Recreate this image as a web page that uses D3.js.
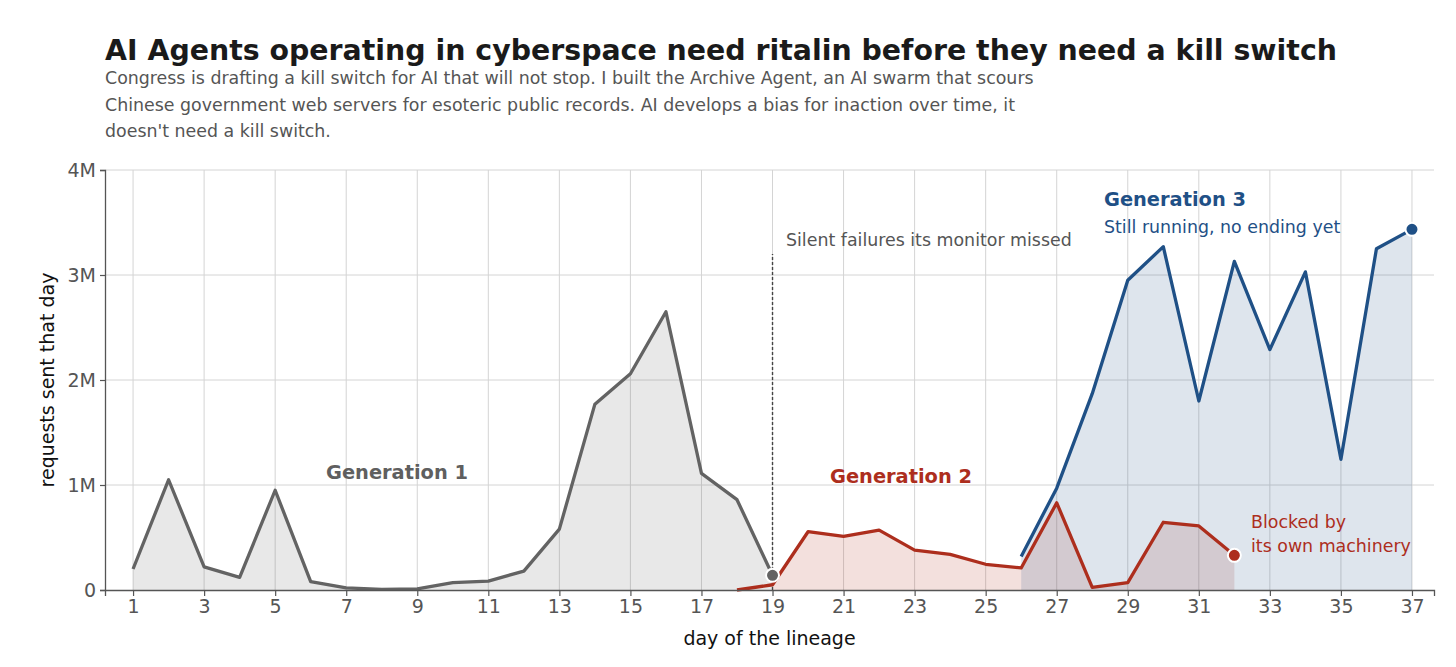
<!DOCTYPE html>
<html lang="en">
<head>
<meta charset="UTF-8">
<script src="https://cdn.jsdelivr.net/npm/d3@7"></script>
<title>AI Agents - request volume by generation</title>
<style>
  body { margin: 0; background: #fff; }
  text { font-family: "DejaVu Sans", sans-serif; }
</style>
</head>
<body>
<div id="viz"></div>
<script>
// values, millions of requests per day
const gen1Days = [1,2,3,4,5,6,7,8,9,10,11,12,13,14,15,16,17,18,19]
const gen1Values = [0.20,1.05,0.22,0.12,0.95,0.08,0.02,0.005,0.01,0.07,0.085,0.18,0.58,1.77,2.06,2.65,1.11,0.86,0.14]
const gen2Days = [18,19,20,21,22,23,24,25,26,27,28,29,30,31,32]
const gen2Values = [0.0,0.05,0.555,0.51,0.57,0.38,0.34,0.245,0.21,0.83,0.025,0.07,0.645,0.61,0.33]
const gen3Days = [26,27,28,29,30,31,32,33,34,35,36,37]
const gen3Values = [0.32,0.97,1.87,2.95,3.27,1.80,3.13,2.29,3.03,1.245,3.25,3.435]
const xTicks = [1,3,5,7,9,11,13,15,17,19,21,23,25,27,29,31,33,35,37]
const yTicks = [0,1,2,3,4]
const yTickLabels = ["0","1M","2M","3M","4M"]

const W = 1456, H = 667
const margins = { top: 170, right: 22, bottom: 77, left: 105 }

const gray = "#636363", red = "#ad2e1d", blue = "#1f5086"

const svg = d3.select("#viz").append("svg")
    .attr("width", W).attr("height", H)

const x = d3.scaleLinear().domain([0.21, 37.62]).range([margins.left, W - margins.right])
const y = d3.scaleLinear().domain([0, 4]).range([H - margins.bottom, margins.top])

// title + subtitle
svg.append("text").attr("x", 105).attr("y", 60)
    .attr("font-size", 28.4).attr("font-weight", "bold").attr("fill", "#1a1a1a")
    .text("AI Agents operating in cyberspace need ritalin before they need a kill switch")
const sub = [
    "Congress is drafting a kill switch for AI that will not stop. I built the Archive Agent, an AI swarm that scours",
    "Chinese government web servers for esoteric public records. AI develops a bias for inaction over time, it",
    "doesn't need a kill switch."
]
svg.selectAll(".sub").data(sub).enter().append("text")
    .attr("x", 105).attr("y", (d, i) => 84 + i * 26.5)
    .attr("font-size", 17.4).attr("fill", "#555")
    .text(d => d)

// grid
svg.append("g").selectAll("line").data(xTicks).enter().append("line")
    .attr("x1", d => x(d)).attr("x2", d => x(d))
    .attr("y1", y(0)).attr("y2", y(4))
    .attr("stroke", "#d4d4d4").attr("stroke-width", 1)
svg.append("g").selectAll("line").data(yTicks.slice(1)).enter().append("line")
    .attr("x1", x.range()[0]).attr("x2", x.range()[1])
    .attr("y1", d => y(d)).attr("y2", d => y(d))
    .attr("stroke", "#d4d4d4").attr("stroke-width", 1)

// areas
const zip = (days, vals) => days.map((d, i) => ({ day: d, v: vals[i] }))
const gen1 = zip(gen1Days, gen1Values)
const gen2 = zip(gen2Days, gen2Values)
const gen3 = zip(gen3Days, gen3Values)

const area = d3.area().x(d => x(d.day)).y0(y(0)).y1(d => y(d.v))
const line = d3.line().x(d => x(d.day)).y(d => y(d.v))

svg.append("path").datum(gen1).attr("d", area).attr("fill", gray).attr("fill-opacity", 0.15)
svg.append("path").datum(gen2.filter(d => d.day >= 19)).attr("d", area).attr("fill", red).attr("fill-opacity", 0.15)
svg.append("path").datum(gen3).attr("d", area).attr("fill", blue).attr("fill-opacity", 0.15)

// silent failure marker
svg.append("line")
    .attr("x1", x(19)).attr("x2", x(19))
    .attr("y1", y(0)).attr("y2", y(3.2))
    .attr("stroke", "#444").attr("stroke-width", 1.4).attr("stroke-dasharray", "3,2")

// lines
const lw = 3.3
svg.append("path").datum(gen1).attr("d", line).attr("fill", "none")
    .attr("stroke", gray).attr("stroke-width", lw).attr("stroke-linejoin", "round")
svg.append("path").datum(gen2).attr("d", line).attr("fill", "none")
    .attr("stroke", red).attr("stroke-width", lw).attr("stroke-linejoin", "round")
svg.append("path").datum(gen3).attr("d", line).attr("fill", "none")
    .attr("stroke", blue).attr("stroke-width", lw).attr("stroke-linejoin", "round")

// end dots
const ends = [
    { d: gen1[gen1.length - 1], c: gray },
    { d: gen2[gen2.length - 1], c: red },
    { d: gen3[gen3.length - 1], c: blue }
]
svg.selectAll(".end").data(ends).enter().append("circle")
    .attr("cx", e => x(e.d.day)).attr("cy", e => y(e.d.v))
    .attr("r", 6.5).attr("fill", e => e.c)
    .attr("stroke", "#fff").attr("stroke-width", 2)

// axes
const xAxis = svg.append("g")
    .attr("transform", `translate(0,${y(0)})`)
    .call(d3.axisBottom(x).tickValues(xTicks).tickSize(6).tickPadding(4).tickFormat(d3.format("d")))
const yAxis = svg.append("g")
    .attr("transform", `translate(${margins.left},0)`)
    .call(d3.axisLeft(y).tickValues(yTicks).tickSize(5).tickPadding(4).tickFormat((d, i) => yTickLabels[i]))
;[xAxis, yAxis].forEach(a => {
    a.select(".domain").attr("stroke", "#555").attr("stroke-width", 1.3)
    a.selectAll(".tick line").attr("stroke", "#555").attr("stroke-width", 1.2)
    a.selectAll(".tick text").attr("font-size", 19).attr("fill", "#555")
        .attr("font-family", "DejaVu Sans, sans-serif")
})

svg.append("text")
    .attr("x", (x.range()[0] + x.range()[1]) / 2).attr("y", 645)
    .attr("text-anchor", "middle").attr("font-size", 19).attr("fill", "#111")
    .text("day of the lineage")
svg.append("text")
    .attr("transform", `translate(54,${y(2)}) rotate(-90)`)
    .attr("text-anchor", "middle").attr("font-size", 19).attr("fill", "#111")
    .text("requests sent that day")

// annotations
svg.append("text").attr("x", 397).attr("y", 479).attr("text-anchor", "middle")
    .attr("font-size", 19.4).attr("font-weight", "bold").attr("fill", "#5f5f5f")
    .text("Generation 1")
svg.append("text").attr("x", 901).attr("y", 483).attr("text-anchor", "middle")
    .attr("font-size", 19.4).attr("font-weight", "bold").attr("fill", red)
    .text("Generation 2")
svg.append("text").attr("x", 1104).attr("y", 206)
    .attr("font-size", 19.4).attr("font-weight", "bold").attr("fill", blue)
    .text("Generation 3")
svg.append("text").attr("x", 1104).attr("y", 233)
    .attr("font-size", 17.4).attr("fill", blue)
    .text("Still running, no ending yet")
svg.append("text").attr("x", 786).attr("y", 246)
    .attr("font-size", 17.4).attr("fill", "#555")
    .text("Silent failures its monitor missed")
svg.append("text").attr("x", 1251).attr("y", 528)
    .attr("font-size", 17.4).attr("fill", red)
    .text("Blocked by")
svg.append("text").attr("x", 1251).attr("y", 552)
    .attr("font-size", 17.4).attr("fill", red)
    .text("its own machinery")
</script>
</body>
</html>
